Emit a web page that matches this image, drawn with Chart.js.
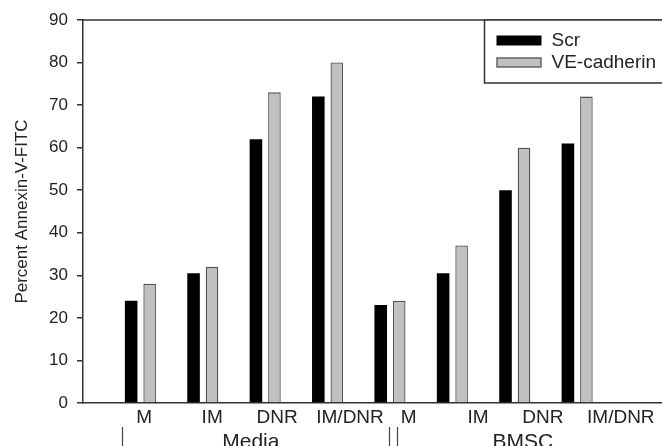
<!DOCTYPE html>
<html>
<head>
<meta charset="utf-8">
<script src="https://cdn.jsdelivr.net/npm/chart.js@4"></script>
<style>
  html, body { margin: 0; padding: 0; background: #fff; }
  #wrap { width: 662px; height: 446px; }
</style>
</head>
<body>
<div id="wrap"><canvas id="annexinChart" width="662" height="446"></canvas></div>
<script>
const categories = ["M", "IM", "DNR", "IM/DNR", "M", "IM", "DNR", "IM/DNR"];
const groupNames = ["Media", "BMSC"];
const scrValues = [24, 30.5, 62, 72, 23, 30.5, 50, 61];
const veCadherinValues = [28, 32, 73, 80, 24, 37, 60, 72];
const yTickValues = [0, 10, 20, 30, 40, 50, 60, 70, 80, 90];

// tick labels in the figure sit a bit right of their bar pairs
const labelNudge = [0.06, 0.15, 0.19, 0.36, 0.30, 0.41, 0.45, 0.70];

const FONT = "'Liberation Sans', Arial, sans-serif";
const INK = "#222";
const AXIS = "#333";

// frame top line, legend box, group captions under the axis
const extrasPlugin = {
  id: "extras",
  afterDraw(chart) {
    const ctx = chart.ctx;
    const a = chart.chartArea;
    const xs = chart.scales.x;
    ctx.save();

    ctx.strokeStyle = AXIS;
    ctx.lineWidth = 1.5;
    ctx.beginPath();
    ctx.moveTo(a.left, a.top);
    ctx.lineTo(chart.width + 5, a.top);
    ctx.stroke();

    // legend (runs off the right edge like the figure)
    const bx = 484.5, by = a.top, bh = 63;
    ctx.fillStyle = "#fff";
    ctx.fillRect(bx, by, 400, bh);
    ctx.beginPath();
    ctx.moveTo(chart.width + 5, by);
    ctx.lineTo(bx, by);
    ctx.lineTo(bx, by + bh);
    ctx.lineTo(chart.width + 5, by + bh);
    ctx.stroke();
    chart.data.datasets.forEach((ds, i) => {
      const sy = by + 15.5 + i * 22;
      ctx.fillStyle = ds.backgroundColor;
      ctx.fillRect(bx + 12, sy, 45, 10);
      if (ds.borderWidth) {
        ctx.strokeStyle = ds.borderColor;
        ctx.lineWidth = 1.2;
        ctx.strokeRect(bx + 12.5, sy + 0.5, 44, 9);
      }
      ctx.fillStyle = INK;
      ctx.font = "19px " + FONT;
      ctx.textAlign = "left";
      ctx.textBaseline = "middle";
      ctx.fillText(ds.label, bx + 67, sy + 5.5);
    });

    // group captions and separators
    const groupCenters = [1.77, 6.13];
    ctx.fillStyle = INK;
    ctx.font = "21px " + FONT;
    ctx.textAlign = "center";
    ctx.textBaseline = "middle";
    groupNames.forEach((g, i) => {
      ctx.fillText(g, xs.getPixelForValue(groupCenters[i]), 442);
    });
    ctx.strokeStyle = "#444";
    ctx.lineWidth = 1.2;
    [-0.29, 3.99, 4.11].forEach((v) => {
      const px = Math.round(xs.getPixelForValue(v)) + 0.5;
      ctx.beginPath();
      ctx.moveTo(px, 427);
      ctx.lineTo(px, 446);
      ctx.stroke();
    });
    ctx.restore();
  },
};

const ctx = document.getElementById("annexinChart").getContext("2d");
new Chart(ctx, {
  type: "bar",
  data: {
    datasets: [
      {
        label: "Scr",
        data: scrValues.map((v, i) => ({ x: i, y: v })),
        backgroundColor: "#000000",
        borderWidth: 0,
      },
      {
        label: "VE-cadherin",
        data: veCadherinValues.map((v, i) => ({ x: i, y: v })),
        backgroundColor: "#c0c0c0",
        borderColor: "#505050",
        borderWidth: 1.3,
      },
    ],
  },
  options: {
    responsive: false,
    animation: false,
    categoryPercentage: 0.593,
    barPercentage: 0.68,
    layout: { padding: { top: 20, right: 0, left: 0, bottom: 0 } },
    plugins: {
      legend: { display: false },
      tooltip: { enabled: false },
    },
    scales: {
      x: {
        type: "linear",
        display: false,
        offset: false,
        min: -0.92,
        max: 8.36,
        afterBuildTicks: (s) => {
          s.ticks = categories.map((c, i) => ({ value: i }));
        },
      },
      xLab: {
        type: "linear",
        position: "bottom",
        offset: false,
        min: -0.92,
        max: 8.36,
        grid: { display: false, drawTicks: false },
        border: { display: true, color: AXIS, width: 1.5 },
        afterBuildTicks: (s) => {
          s.ticks = categories.map((c, i) => ({ value: i + labelNudge[i] }));
        },
        afterFit: (s) => { s.height = 43; },
        ticks: {
          autoSkip: false,
          maxRotation: 0,
          minRotation: 0,
          padding: 3,
          color: INK,
          font: { family: FONT, size: 19 },
          callback: (v, i) => categories[i],
        },
      },
      y: {
        min: 0,
        max: 90,
        afterBuildTicks: (s) => {
          s.ticks = yTickValues.map((v) => ({ value: v }));
        },
        afterFit: (s) => { s.width = 83; },
        grid: { drawOnChartArea: false, drawTicks: true, tickLength: 6, color: AXIS, lineWidth: 1.5 },
        border: { display: true, color: AXIS, width: 1.5 },
        ticks: {
          padding: 9,
          color: INK,
          font: { family: FONT, size: 17 },
        },
        title: {
          display: true,
          text: "Percent Annexin-V-FITC",
          color: INK,
          font: { family: FONT, size: 17 },
          padding: { top: 12, bottom: 0 },
        },
      },
    },
  },
  plugins: [extrasPlugin],
});
</script>
</body>
</html>
